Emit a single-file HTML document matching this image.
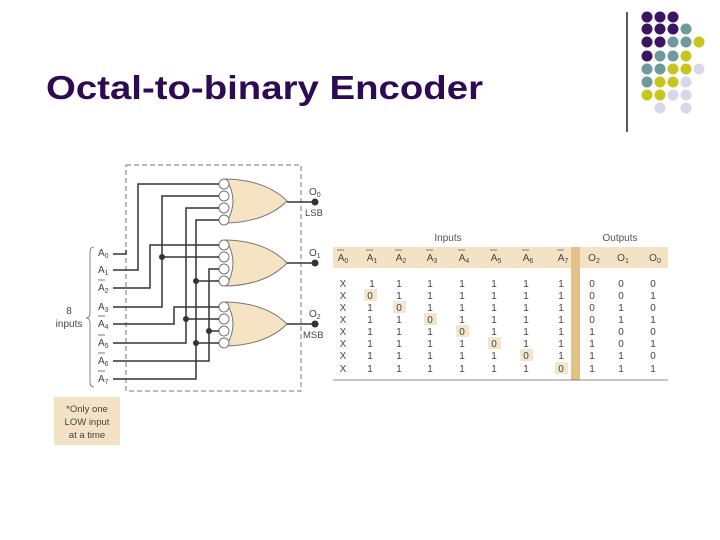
<!DOCTYPE html>
<html><head><meta charset="utf-8"><style>
body{margin:0;background:#fff;}
svg{display:block;font-family:"Liberation Sans",sans-serif;}
</style></head><body>
<svg width="720" height="540" viewBox="0 0 720 540" xmlns="http://www.w3.org/2000/svg">
<rect width="720" height="540" fill="#fff"/>
<!-- title -->
<text x="46" y="99" font-size="33" font-weight="bold" fill="#2e0a54" textLength="437" lengthAdjust="spacingAndGlyphs">Octal-to-binary Encoder</text>
<!-- decoration -->
<line x1="627" y1="12" x2="627" y2="132" stroke="#222" stroke-width="1.5"/>
<g>
<circle cx="647" cy="17" r="5.5" fill="#3b1561"/><circle cx="660" cy="17" r="5.5" fill="#3b1561"/><circle cx="673" cy="17" r="5.5" fill="#3b1561"/>
<circle cx="647" cy="29" r="5.5" fill="#3b1561"/><circle cx="660" cy="29" r="5.5" fill="#3b1561"/><circle cx="673" cy="29" r="5.5" fill="#3b1561"/><circle cx="686" cy="29" r="5.5" fill="#6f9a9a"/>
<circle cx="647" cy="42" r="5.5" fill="#3b1561"/><circle cx="660" cy="42" r="5.5" fill="#3b1561"/><circle cx="673" cy="42" r="5.5" fill="#6f9a9a"/><circle cx="686" cy="42" r="5.5" fill="#6f9a9a"/><circle cx="699" cy="42" r="5.5" fill="#c8c61e"/>
<circle cx="647" cy="56" r="5.5" fill="#3b1561"/><circle cx="660" cy="56" r="5.5" fill="#6f9a9a"/><circle cx="673" cy="56" r="5.5" fill="#6f9a9a"/><circle cx="686" cy="56" r="5.5" fill="#c8c61e"/>
<circle cx="647" cy="69" r="5.5" fill="#6f9a9a"/><circle cx="660" cy="69" r="5.5" fill="#6f9a9a"/><circle cx="673" cy="69" r="5.5" fill="#c8c61e"/><circle cx="686" cy="69" r="5.5" fill="#c8c61e"/><circle cx="699" cy="69" r="5.5" fill="#d8d8e8"/>
<circle cx="647" cy="82" r="5.5" fill="#6f9a9a"/><circle cx="660" cy="82" r="5.5" fill="#c8c61e"/><circle cx="673" cy="82" r="5.5" fill="#c8c61e"/><circle cx="686" cy="82" r="5.5" fill="#d8d8e8"/>
<circle cx="647" cy="95" r="5.5" fill="#c8c61e"/><circle cx="660" cy="95" r="5.5" fill="#c8c61e"/><circle cx="673" cy="95" r="5.5" fill="#d8d8e8"/><circle cx="686" cy="95" r="5.5" fill="#d8d8e8"/>
<circle cx="660" cy="108" r="5.5" fill="#d8d8e8"/><circle cx="686" cy="108" r="5.5" fill="#d8d8e8"/>
</g>
<!-- dashed box -->
<rect x="126" y="165" width="175" height="226" fill="none" stroke="#777" stroke-width="1" stroke-dasharray="5,3"/>
<!-- gates -->
<g fill="#f5e3c4" stroke="#777" stroke-width="1">
<path d="M226,179 Q240,201 226,223 Q266,222 287,201 Q266,180 226,179 Z"/>
<path d="M226,240 Q240,263 226,286 Q266,285 287,263 Q266,241 226,240 Z"/>
<path d="M226,302 Q240,324 226,346 Q266,345 287,324 Q266,303 226,302 Z"/>
</g>
<g fill="#fff" stroke="#777" stroke-width="1">
<circle cx="224" cy="184" r="5"/><circle cx="224" cy="196" r="5"/><circle cx="224" cy="208" r="5"/><circle cx="224" cy="220" r="5"/>
<circle cx="224" cy="245" r="5"/><circle cx="224" cy="257" r="5"/><circle cx="224" cy="269" r="5"/><circle cx="224" cy="281" r="5"/>
<circle cx="224" cy="307" r="5"/><circle cx="224" cy="319" r="5"/><circle cx="224" cy="331" r="5"/><circle cx="224" cy="343" r="5"/>
</g>
<!-- wires -->
<g fill="none" stroke="#333" stroke-width="1.5">
<polyline points="113,254 126,254 126,250"/>
<polyline points="113,270 138,270 138,184 219,184"/>
<polyline points="113,288 150,288 150,245 219,245"/>
<polyline points="113,307 162,307 162,196 219,196"/>
<line x1="162" y1="257" x2="219" y2="257"/>
<polyline points="113,324 174,324 174,307 219,307"/>
<polyline points="113,343 186,343 186,208 219,208"/>
<line x1="186" y1="319" x2="219" y2="319"/>
<polyline points="113,361 209,361 209,269 219,269"/>
<line x1="209" y1="331" x2="219" y2="331"/>
<polyline points="113,379 196,379 196,220 219,220"/>
<line x1="196" y1="281" x2="219" y2="281"/>
<line x1="196" y1="343" x2="219" y2="343"/>
<line x1="287" y1="202" x2="315" y2="202"/>
<line x1="287" y1="263" x2="315" y2="263"/>
<line x1="287" y1="324" x2="315" y2="324"/>
</g>
<g fill="#333">
<circle cx="162" cy="257" r="3"/><circle cx="186" cy="319" r="3"/><circle cx="209" cy="331" r="3"/>
<circle cx="196" cy="281" r="3"/><circle cx="196" cy="343" r="3"/>
<circle cx="315" cy="202" r="3.5"/><circle cx="315" cy="263" r="3.5"/><circle cx="315" cy="324" r="3.5"/>
</g>
<g font-size="10" fill="#444">
<text x="309" y="195">O<tspan font-size="7" dy="2">0</tspan></text>
<text x="305" y="216" font-size="9.5">LSB</text>
<text x="309" y="256">O<tspan font-size="7" dy="2">1</tspan></text>
<text x="309" y="317">O<tspan font-size="7" dy="2">2</tspan></text>
<text x="303" y="338" font-size="9.5">MSB</text>
</g>
<!-- input labels -->
<g font-size="10" fill="#444">
<text x="98" y="256">A<tspan font-size="7" dy="2">0</tspan></text>
<text x="98" y="273">A<tspan font-size="7" dy="2">1</tspan></text>
<text x="98" y="291">A<tspan font-size="7" dy="2">2</tspan></text>
<text x="98" y="310">A<tspan font-size="7" dy="2">3</tspan></text>
<text x="98" y="327">A<tspan font-size="7" dy="2">4</tspan></text>
<text x="98" y="346">A<tspan font-size="7" dy="2">5</tspan></text>
<text x="98" y="364">A<tspan font-size="7" dy="2">6</tspan></text>
<text x="98" y="382">A<tspan font-size="7" dy="2">7</tspan></text>
</g>
<g stroke="#555" stroke-width="0.8">
<line x1="98" y1="280" x2="105" y2="280"/><line x1="98" y1="316" x2="105" y2="316"/><line x1="98" y1="335" x2="105" y2="335"/><line x1="98" y1="353" x2="105" y2="353"/><line x1="98" y1="371" x2="105" y2="371"/>
</g>
<path d="M94,247 Q90,247 90,252 L90,313 Q90,318 86,318 Q90,318 90,323 L90,382 Q90,387 94,387" fill="none" stroke="#666" stroke-width="0.8"/>
<text x="69" y="314" font-size="10" fill="#444" text-anchor="middle">8</text>
<text x="69" y="327" font-size="10" fill="#444" text-anchor="middle">inputs</text>
<!-- note -->
<rect x="54" y="397" width="66" height="48" fill="#f3e2c3"/>
<g font-size="9.5" fill="#444" text-anchor="middle">
<text x="87" y="412">*Only one</text><text x="87" y="425">LOW input</text><text x="87" y="438">at a time</text>
</g>
<!-- table -->
<text x="448" y="241" font-size="10" fill="#555" text-anchor="middle">Inputs</text>
<text x="620" y="241" font-size="10" fill="#555" text-anchor="middle">Outputs</text>
<rect x="333" y="247" width="335" height="21" fill="#f3e2c3"/>
<rect x="571" y="247" width="9" height="133" fill="#e2c286"/>
<line x1="333" y1="380" x2="668" y2="380" stroke="#666" stroke-width="0.8"/>
<g fill="#f3e6cc">
<rect x="364" y="289" width="13" height="12"/><rect x="393" y="301" width="13" height="12"/><rect x="424" y="313" width="13" height="12"/><rect x="456" y="325" width="13" height="12"/><rect x="488" y="337" width="13" height="12"/><rect x="520" y="349" width="13" height="12"/><rect x="555" y="362" width="13" height="12"/>
</g>
<g font-size="10" fill="#444" text-anchor="middle">
<text x="343" y="261">A<tspan font-size="7" dy="2">0</tspan></text>
<text x="372" y="261">A<tspan font-size="7" dy="2">1</tspan></text>
<text x="401" y="261">A<tspan font-size="7" dy="2">2</tspan></text>
<text x="432" y="261">A<tspan font-size="7" dy="2">3</tspan></text>
<text x="464" y="261">A<tspan font-size="7" dy="2">4</tspan></text>
<text x="496" y="261">A<tspan font-size="7" dy="2">5</tspan></text>
<text x="528" y="261">A<tspan font-size="7" dy="2">6</tspan></text>
<text x="563" y="261">A<tspan font-size="7" dy="2">7</tspan></text>
<text x="594" y="261">O<tspan font-size="7" dy="2">2</tspan></text>
<text x="623" y="261">O<tspan font-size="7" dy="2">1</tspan></text>
<text x="655" y="261">O<tspan font-size="7" dy="2">0</tspan></text>
</g>
<g stroke="#555" stroke-width="0.7">
<line x1="337" y1="250" x2="344" y2="250"/><line x1="366" y1="250" x2="373" y2="250"/><line x1="395" y1="250" x2="402" y2="250"/><line x1="426" y1="250" x2="433" y2="250"/><line x1="458" y1="250" x2="465" y2="250"/><line x1="490" y1="250" x2="497" y2="250"/><line x1="522" y1="250" x2="529" y2="250"/><line x1="557" y1="250" x2="564" y2="250"/>
</g>
<g font-size="10" fill="#444" text-anchor="middle">
<g><text x="343" y="287">X</text><text x="372" y="287">1</text><text x="399" y="287">1</text><text x="430" y="287">1</text><text x="462" y="287">1</text><text x="494" y="287">1</text><text x="526" y="287">1</text><text x="561" y="287">1</text><text x="592" y="287">0</text><text x="621" y="287">0</text><text x="653" y="287">0</text></g>
<g><text x="343" y="299">X</text><text x="370" y="299">0</text><text x="399" y="299">1</text><text x="430" y="299">1</text><text x="462" y="299">1</text><text x="494" y="299">1</text><text x="526" y="299">1</text><text x="561" y="299">1</text><text x="592" y="299">0</text><text x="621" y="299">0</text><text x="653" y="299">1</text></g>
<g><text x="343" y="311">X</text><text x="370" y="311">1</text><text x="399" y="311">0</text><text x="430" y="311">1</text><text x="462" y="311">1</text><text x="494" y="311">1</text><text x="526" y="311">1</text><text x="561" y="311">1</text><text x="592" y="311">0</text><text x="621" y="311">1</text><text x="653" y="311">0</text></g>
<g><text x="343" y="323">X</text><text x="370" y="323">1</text><text x="399" y="323">1</text><text x="430" y="323">0</text><text x="462" y="323">1</text><text x="494" y="323">1</text><text x="526" y="323">1</text><text x="561" y="323">1</text><text x="592" y="323">0</text><text x="621" y="323">1</text><text x="653" y="323">1</text></g>
<g><text x="343" y="335">X</text><text x="370" y="335">1</text><text x="399" y="335">1</text><text x="430" y="335">1</text><text x="462" y="335">0</text><text x="494" y="335">1</text><text x="526" y="335">1</text><text x="561" y="335">1</text><text x="592" y="335">1</text><text x="621" y="335">0</text><text x="653" y="335">0</text></g>
<g><text x="343" y="347">X</text><text x="370" y="347">1</text><text x="399" y="347">1</text><text x="430" y="347">1</text><text x="462" y="347">1</text><text x="494" y="347">0</text><text x="526" y="347">1</text><text x="561" y="347">1</text><text x="592" y="347">1</text><text x="621" y="347">0</text><text x="653" y="347">1</text></g>
<g><text x="343" y="359">X</text><text x="370" y="359">1</text><text x="399" y="359">1</text><text x="430" y="359">1</text><text x="462" y="359">1</text><text x="494" y="359">1</text><text x="526" y="359">0</text><text x="561" y="359">1</text><text x="592" y="359">1</text><text x="621" y="359">1</text><text x="653" y="359">0</text></g>
<g><text x="343" y="372">X</text><text x="370" y="372">1</text><text x="399" y="372">1</text><text x="430" y="372">1</text><text x="462" y="372">1</text><text x="494" y="372">1</text><text x="526" y="372">1</text><text x="561" y="372">0</text><text x="592" y="372">1</text><text x="621" y="372">1</text><text x="653" y="372">1</text></g>
</g>
</svg>
</body></html>
